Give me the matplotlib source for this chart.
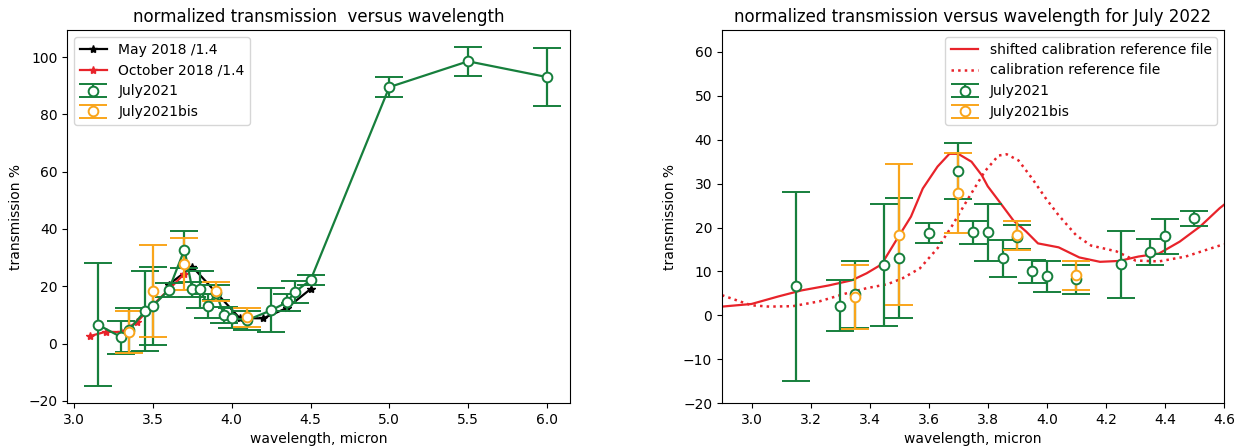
import matplotlib
matplotlib.use("Agg")
import matplotlib.pyplot as plt
import numpy as np

# ---- data ----
# July2021 (green)
jul_x = [3.15, 3.30, 3.35, 3.45, 3.50, 3.60, 3.70, 3.75, 3.80, 3.85, 3.90, 3.95, 4.00, 4.10, 4.25, 4.35, 4.40, 4.50, 5.00, 5.50, 6.00]
jul_y = [6.6, 2.2, 4.8, 11.4, 13.1, 18.7, 32.8, 18.9, 18.9, 13.0, 17.8, 10.0, 8.9, 8.2, 11.6, 14.4, 18.0, 22.1, 89.5, 98.5, 93.0]
jul_err = [21.5, 5.8, 7.7, 13.9, 13.6, 2.3, 6.4, 2.7, 6.4, 4.2, 2.7, 2.7, 3.6, 3.3, 7.7, 2.9, 4.0, 1.7, 3.5, 5.0, 10.0]

# July2021bis (orange)
bis_x = [3.35, 3.50, 3.70, 3.90, 4.10]
bis_y = [4.1, 18.4, 27.8, 18.2, 9.1]
bis_err = [7.3, 16.0, 9.1, 3.2, 3.3]

# May 2018 /1.4 (black)
may_x = [3.60, 3.75, 4.05, 4.20, 4.35, 4.50]
may_y = [20.6, 26.8, 8.9, 8.8, 12.4, 19.0]

# October 2018 /1.4 (red)
oct_x = [3.10, 3.20, 3.30, 3.40, 3.50, 3.60, 3.70]
oct_y = [2.6, 4.1, 4.0, 7.6, 13.5, 18.8, 24.4]

# shifted calibration reference file (solid)
shift_x = [2.90, 3.00, 3.09, 3.17, 3.26, 3.34, 3.39, 3.44, 3.49, 3.54, 3.58, 3.63, 3.67, 3.70,
           3.745, 3.78, 3.80, 3.836, 3.887, 3.93, 3.97, 4.04, 4.11, 4.18, 4.245, 4.31, 4.38, 4.45,
           4.52, 4.585, 4.60]
shift_y = [2.0, 2.6, 4.3, 5.7, 6.8, 8.0, 9.6, 11.6, 17.1, 22.5, 28.9, 33.9, 36.8, 36.8,
           35.0, 31.9, 29.4, 26.2, 21.6, 19.1, 16.4, 15.5, 13.2, 12.2, 12.4, 13.4, 14.1, 16.8,
           20.3, 24.4, 25.2]

# calibration reference file (dotted)
cal_x = [2.90, 2.96, 3.00, 3.06, 3.14, 3.23, 3.32, 3.39, 3.46, 3.51, 3.57, 3.63, 3.68, 3.73,
         3.79, 3.836, 3.864, 3.904, 3.95, 3.996, 4.04, 4.10, 4.15, 4.235, 4.30, 4.38, 4.47,
         4.585, 4.60]
cal_y = [4.6, 3.2, 2.3, 2.0, 2.1, 3.2, 5.0, 6.2, 7.1, 8.4, 10.7, 15.3, 20.5, 26.2,
         32.8, 36.4, 36.7, 35.3, 31.2, 26.7, 22.8, 18.2, 15.9, 14.6, 12.5, 12.3, 13.4,
         15.9, 16.2]

GREEN = "#167f3c"
ORANGE = "#f9a51b"
RED = "#e8232a"

fig = plt.figure(figsize=(12.35, 4.48), dpi=100)
ax1 = fig.add_axes([0.0543, 0.100, 0.407, 0.833])
ax2 = fig.add_axes([0.5846, 0.100, 0.4065, 0.833])

eb_kw = dict(fmt="o", markerfacecolor="white", markersize=7, capsize=10,
             elinewidth=1.6, capthick=1.6, markeredgewidth=1.4)

# ---- left ----
ax1.plot(may_x, may_y, "-*", color="black", markersize=6, linewidth=1.6, label="May 2018 /1.4")
ax1.plot(oct_x, oct_y, "-*", color=RED, markersize=6, linewidth=1.6, label="October 2018 /1.4")
ax1.plot(jul_x, jul_y, "-", color=GREEN, linewidth=1.6)
ax1.errorbar(jul_x, jul_y, yerr=jul_err, color=GREEN, markeredgecolor=GREEN, label="July2021", **eb_kw)
ax1.errorbar(bis_x, bis_y, yerr=bis_err, color=ORANGE, markeredgecolor=ORANGE, label="July2021bis", **eb_kw)
ax1.set_title("normalized transmission  versus wavelength", fontsize=12)
ax1.set_xlabel("wavelength, micron", fontsize=10)
ax1.set_ylabel("transmission %", fontsize=10)
ax1.set_xticks([3.0, 3.5, 4.0, 4.5, 5.0, 5.5, 6.0])
ax1.set_yticks([-20, 0, 20, 40, 60, 80, 100])
ax1.legend(loc="upper left", fontsize=10)

# ---- right ----
ax2.plot(shift_x, shift_y, "-", color=RED, linewidth=1.6, label="shifted calibration reference file")
ax2.plot(cal_x, cal_y, ":", color=RED, linewidth=1.8, label="calibration reference file")
ax2.errorbar(jul_x, jul_y, yerr=jul_err, color=GREEN, markeredgecolor=GREEN, label="July2021", **eb_kw)
ax2.errorbar(bis_x, bis_y, yerr=bis_err, color=ORANGE, markeredgecolor=ORANGE, label="July2021bis", **eb_kw)
ax2.set_xlim(2.9, 4.6)
ax2.set_ylim(-20, 65)
ax2.set_xticks([3.0, 3.2, 3.4, 3.6, 3.8, 4.0, 4.2, 4.4, 4.6])
ax2.set_yticks([-20, -10, 0, 10, 20, 30, 40, 50, 60])
ax2.set_title("normalized transmission versus wavelength for July 2022", fontsize=12)
ax2.set_xlabel("wavelength, micron", fontsize=10)
ax2.set_ylabel("transmission %", fontsize=10)
ax2.legend(loc="upper right", fontsize=10)

for ax in (ax1, ax2):
    ax.tick_params(labelsize=10)

fig.savefig("out.png", dpi=100)
